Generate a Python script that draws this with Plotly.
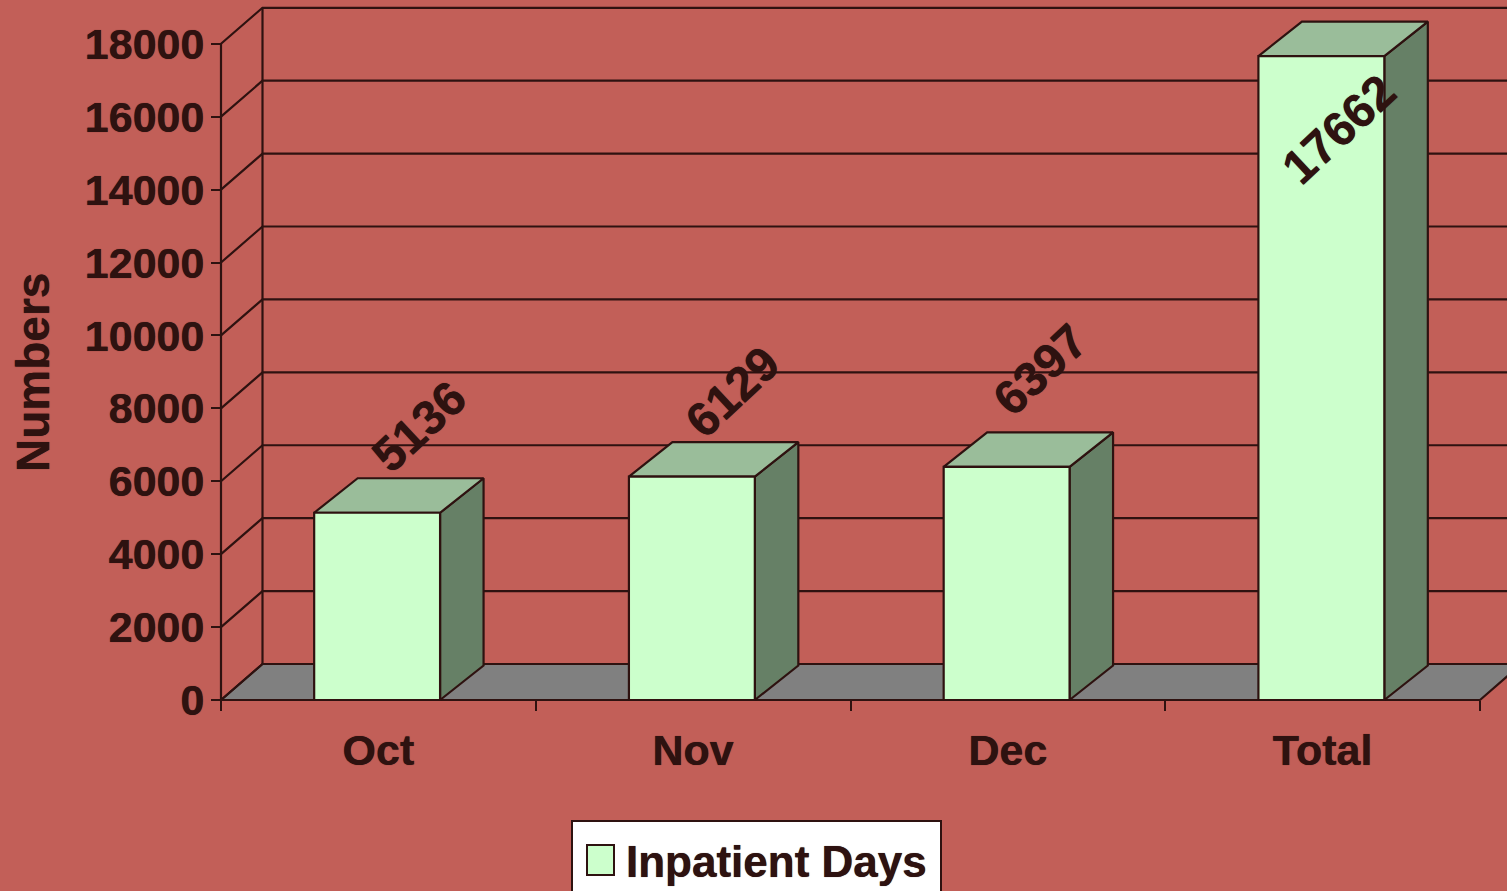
import plotly.graph_objects as go

categories = ["Oct", "Nov", "Dec", "Total"]
values = [5136, 6129, 6397, 17662]
series_name = "Inpatient Days"
y_ticks = [0, 2000, 4000, 6000, 8000, 10000, 12000, 14000, 16000, 18000]
x_boundaries = [0, 1, 2, 3, 4]
label_shift_x = [42, 41, 34, 17]
label_shift_y = [86, 85, 97, -73]

W, H = 1507, 891
X0_PX, Y0_PX = 221, 700
PX_PER_CAT = 314.75
VAL_PER_PX = 27.43

BG = "#C25F58"
INK = "#2E1210"
FACE = "#CCFFCC"
TOP = "#9ABD9A"
SIDE = "#668066"
FLOOR = "#808080"
FONT = "Liberation Sans, Arial, sans-serif"
HEAVY = "0 0 0.7px " + INK

xr = [-X0_PX / PX_PER_CAT, (W - X0_PX) / PX_PER_CAT]
yr = [-(H - Y0_PX) * VAL_PER_PX, Y0_PX * VAL_PER_PX]

wall_dx = 41.5 / PX_PER_CAT
wall_dy = 36 * VAL_PER_PX
bar_dx = 43.5 / PX_PER_CAT
bar_dy = 34.5 * VAL_PER_PX
bar_off = 0.296
bar_w = 0.400
y_top = y_ticks[-1]
x_end = x_boundaries[-1]
LW = 2.2


def poly(fig, xs, ys, fill, name):
    fig.add_trace(go.Scatter(x=xs, y=ys, mode="lines", fill="toself", fillcolor=fill,
                             line=dict(color=INK, width=LW), showlegend=False,
                             hoverinfo="skip", name=name))


fig = go.Figure()

# floor
poly(fig, [0, wall_dx, x_end + wall_dx, x_end, 0], [0, wall_dy, wall_dy, 0, 0], FLOOR, "floor")

# gridlines on the walls
gx, gy = [], []
for t in y_ticks:
    gx += [0, wall_dx, x_end + wall_dx, None]
    gy += [t, t + wall_dy, t + wall_dy, None]
gx += [wall_dx, wall_dx, None, 0, 0, None, 0, x_end]
gy += [wall_dy, y_top + wall_dy, None, 0, y_top, None, 0, 0]
fig.add_trace(go.Scatter(x=gx, y=gy, mode="lines", line=dict(color=INK, width=LW),
                         showlegend=False, hoverinfo="skip", name="grid"))

# 3-D bars
for i, (c, v) in enumerate(zip(categories, values)):
    l = i + bar_off
    r = l + bar_w
    poly(fig, [r, r + bar_dx, r + bar_dx, r, r], [0, bar_dy, v + bar_dy, v, 0], SIDE, c + " side")
    poly(fig, [l, r, r + bar_dx, l + bar_dx, l], [v, v, v + bar_dy, v + bar_dy, v], TOP, c + " top")
    poly(fig, [l, r, r, l, l], [0, 0, v, v, 0], FACE, c)

annotations = []
for i, v in enumerate(values):
    annotations.append(dict(x=i + bar_off + bar_w / 2, y=v, xref="x", yref="y", text=str(v),
                            showarrow=False, textangle=-43, xshift=label_shift_x[i],
                            yshift=label_shift_y[i], xanchor="center", yanchor="middle",
                            font=dict(family=FONT, size=48, color=INK, weight="bold", shadow=HEAVY)))

annotations.append(dict(x=33 / W, y=1 - 373 / H, xref="paper", yref="paper", text="Numbers",
                        showarrow=False, textangle=-90, xanchor="center", yanchor="middle",
                        font=dict(family=FONT, size=46, color=INK, weight="bold", shadow=HEAVY)))
annotations.append(dict(x=777 / W, y=1 - 861 / H, xref="paper", yref="paper", text=series_name,
                        showarrow=False, xanchor="center", yanchor="middle",
                        font=dict(family=FONT, size=44, color=INK, weight="bold", shadow=HEAVY)))

shapes = [
    dict(type="rect", xref="paper", yref="paper", x0=572 / W, x1=941 / W, y0=-0.01, y1=1 - 821 / H,
         fillcolor="white", line=dict(color=INK, width=2), layer="above"),
    dict(type="rect", xref="paper", yref="paper", x0=587 / W, x1=614 / W, y0=1 - 875 / H, y1=1 - 845 / H,
         fillcolor=FACE, line=dict(color=INK, width=2), layer="above"),
]

fig.update_layout(
    width=W, height=H, margin=dict(l=0, r=0, t=0, b=0),
    paper_bgcolor=BG, plot_bgcolor=BG, showlegend=False,
    annotations=annotations, shapes=shapes,
    xaxis=dict(range=xr, anchor="free", position=(H - Y0_PX) / H, showgrid=False, zeroline=False,
               showline=False, tickmode="array",
               tickvals=[i + 0.5 for i in range(len(categories))], ticktext=categories,
               ticks="outside", ticklen=0, ticklabelstandoff=12,
               tickfont=dict(family=FONT, size=43, color=INK, weight="bold", shadow=HEAVY),
               minor=dict(tickmode="array", tickvals=x_boundaries, ticks="outside",
                          ticklen=10, tickwidth=2, tickcolor=INK, showgrid=False)),
    yaxis=dict(range=yr, anchor="free", position=X0_PX / W, showgrid=False, zeroline=False,
               showline=False, tickmode="array", tickvals=y_ticks, ticktext=[str(t) for t in y_ticks],
               ticks="outside", ticklen=10, tickwidth=2, tickcolor=INK, ticklabelstandoff=-2,
               tickfont=dict(family=FONT, size=43, color=INK, weight="bold", shadow=HEAVY)),
)

fig.write_html("out.html", config={"displayModeBar": False},
               post_script="document.body.style.margin='0';document.body.style.overflow='hidden';")
